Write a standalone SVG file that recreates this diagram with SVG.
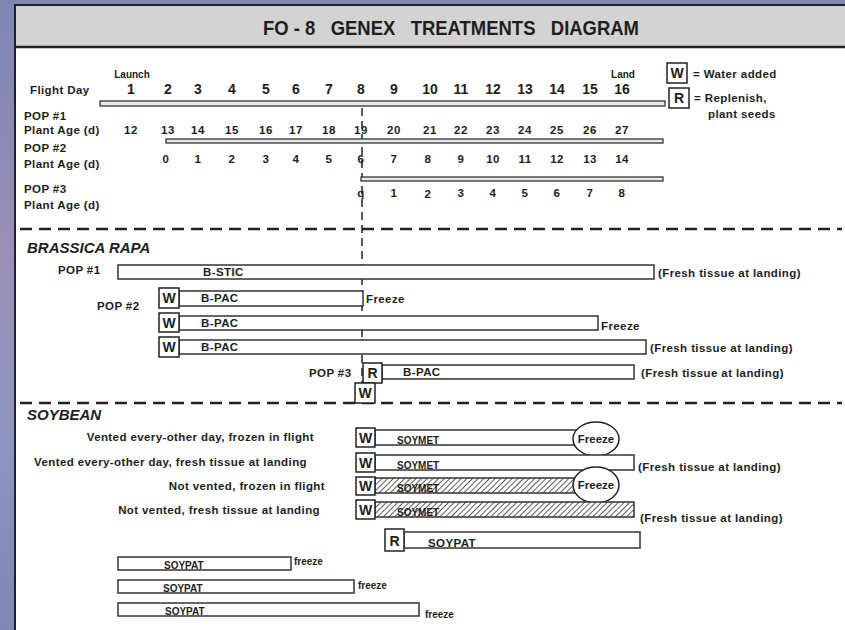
<svg xmlns="http://www.w3.org/2000/svg" width="845" height="630" viewBox="0 0 845 630">
<defs>
<linearGradient id="bg" x1="0" y1="0" x2="0" y2="1">
<stop offset="0" stop-color="#7d86b4"/>
<stop offset="0.4" stop-color="#9a8fb6"/>
<stop offset="0.7" stop-color="#8d95c0"/>
<stop offset="1" stop-color="#7f88b2"/>
</linearGradient>
<pattern id="hatch" patternUnits="userSpaceOnUse" width="4" height="4" patternTransform="rotate(45)">
<rect width="4" height="4" fill="#ffffff"/>
<line x1="0" y1="0" x2="0" y2="4" stroke="#333" stroke-width="1.6"/>
</pattern>
<style>
text{font-family:"Liberation Sans",Arial,sans-serif;font-weight:bold;fill:#1e1e1e}
.t11{font-size:11.5px;letter-spacing:0.4px}
.t10{font-size:10px}
.day{font-size:14px}
.age{font-size:11.5px;letter-spacing:0.5px}
.sec{font-size:15px;font-style:italic}
.bar{fill:#fff;stroke:#333;stroke-width:1.5}
.tl{fill:#e8e8e8;stroke:#333;stroke-width:1.3}
.box{fill:#fff;stroke:#222;stroke-width:1.5}
.boxt{font-size:14px;text-anchor:middle}
.sep{stroke:#222;stroke-width:2.5;stroke-dasharray:12 7;fill:none}
.vd{stroke:#222;stroke-width:1.5;stroke-dasharray:8 5;fill:none}
.mid{text-anchor:middle}
.end{text-anchor:end}
</style>
</defs>
<rect width="845" height="630" fill="url(#bg)"/>
<rect x="15" y="5" width="832" height="630" fill="#ffffff" stroke="#222" stroke-width="2"/>
<rect x="16" y="6" width="830" height="40" fill="#d3d3d3"/>
<line x1="15" y1="47" x2="845" y2="47" stroke="#222" stroke-width="2.5"/>
<text x="451" y="35" class="mid" style="font-size:20px" textLength="376" lengthAdjust="spacingAndGlyphs" xml:space="preserve">FO - 8   GENEX   TREATMENTS   DIAGRAM</text>

<g id="connectors">
<line class="sep" x1="20" y1="229" x2="842" y2="229"/>
<line class="sep" x1="20" y1="403" x2="842" y2="403"/>
<line class="vd" x1="362" y1="108" x2="362" y2="383"/>
</g>

<g id="timeline">
<text x="30" y="94" class="t11">Flight Day</text>
<text x="132" y="78" class="t10 mid">Launch</text>
<text x="623" y="78" class="t10 mid">Land</text>
<g class="day">
<text x="131" y="94" class="mid">1</text>
<text x="168" y="94" class="mid">2</text>
<text x="198" y="94" class="mid">3</text>
<text x="232" y="94" class="mid">4</text>
<text x="266" y="94" class="mid">5</text>
<text x="296" y="94" class="mid">6</text>
<text x="329" y="94" class="mid">7</text>
<text x="361" y="94" class="mid">8</text>
<text x="394" y="94" class="mid">9</text>
<text x="430" y="94" class="mid">10</text>
<text x="461" y="94" class="mid">11</text>
<text x="493" y="94" class="mid">12</text>
<text x="525" y="94" class="mid">13</text>
<text x="557" y="94" class="mid">14</text>
<text x="590" y="94" class="mid">15</text>
<text x="622" y="94" class="mid">16</text>
</g>
<rect class="tl" x="100" y="101" width="565" height="5"/>

<text x="24" y="120" class="t11">POP #1</text>
<text x="24" y="134" class="t11">Plant Age (d)</text>
<g class="age">
<text x="131" y="134" class="mid">12</text>
<text x="168" y="134" class="mid">13</text>
<text x="198" y="134" class="mid">14</text>
<text x="232" y="134" class="mid">15</text>
<text x="266" y="134" class="mid">16</text>
<text x="296" y="134" class="mid">17</text>
<text x="329" y="134" class="mid">18</text>
<text x="361" y="134" class="mid">19</text>
<text x="394" y="134" class="mid">20</text>
<text x="430" y="134" class="mid">21</text>
<text x="461" y="134" class="mid">22</text>
<text x="493" y="134" class="mid">23</text>
<text x="525" y="134" class="mid">24</text>
<text x="557" y="134" class="mid">25</text>
<text x="590" y="134" class="mid">26</text>
<text x="622" y="134" class="mid">27</text>
</g>
<rect class="tl" x="166" y="139" width="497" height="4"/>

<text x="24" y="152" class="t11">POP #2</text>
<text x="24" y="168" class="t11">Plant Age (d)</text>
<g class="t11">
<text x="166" y="163" class="mid">0</text>
<text x="198" y="163" class="mid">1</text>
<text x="232" y="163" class="mid">2</text>
<text x="266" y="163" class="mid">3</text>
<text x="296" y="163" class="mid">4</text>
<text x="329" y="163" class="mid">5</text>
<text x="361" y="163" class="mid">6</text>
<text x="394" y="163" class="mid">7</text>
<text x="428" y="163" class="mid">8</text>
<text x="461" y="163" class="mid">9</text>
<text x="493" y="163" class="mid">10</text>
<text x="525" y="163" class="mid">11</text>
<text x="557" y="163" class="mid">12</text>
<text x="590" y="163" class="mid">13</text>
<text x="622" y="163" class="mid">14</text>
</g>
<rect class="tl" x="361" y="177" width="302" height="4"/>

<text x="24" y="193" class="t11">POP #3</text>
<text x="24" y="209" class="t11">Plant Age (d)</text>
<g class="t11">
<text x="361" y="197" class="mid">q</text>
<text x="394" y="197" class="mid">1</text>
<text x="428" y="198" class="mid">2</text>
<text x="461" y="197" class="mid">3</text>
<text x="493" y="197" class="mid">4</text>
<text x="525" y="197" class="mid">5</text>
<text x="557" y="197" class="mid">6</text>
<text x="590" y="197" class="mid">7</text>
<text x="622" y="197" class="mid">8</text>
</g>
</g>

<g id="legend">
<rect class="box" x="667" y="63" width="20" height="20"/>
<text x="677" y="78" class="boxt">W</text>
<text x="693" y="78" class="t11">= Water added</text>
<rect class="box" x="669" y="88" width="20" height="20"/>
<text x="679" y="103" class="boxt">R</text>
<text x="694" y="102" class="t11">= Replenish,</text>
<text x="708" y="118" class="t11">plant seeds</text>
</g>

<g id="brassica">
<text x="27" y="253" class="sec">BRASSICA RAPA</text>
<g id="br-pop1">
<text x="58" y="274" class="t11">POP #1</text>
<rect class="bar" x="118" y="265" width="536" height="14"/>
<text x="203" y="276" class="t11">B-STIC</text>
<text x="658" y="277" class="t11">(Fresh tissue at landing)</text>
</g>
<text x="97" y="310" class="t11">POP #2</text>
<g id="br-pop2a">
<rect class="bar" x="179" y="291" width="184" height="15"/>
<rect class="box" x="159" y="288" width="20" height="20"/>
<text x="169" y="303" class="boxt">W</text>
<text x="201" y="302" class="t11">B-PAC</text>
<text x="366" y="303" class="t11">Freeze</text>
</g>
<g id="br-pop2b">
<rect class="bar" x="179" y="316" width="419" height="14"/>
<rect class="box" x="159" y="313" width="20" height="19"/>
<text x="169" y="328" class="boxt">W</text>
<text x="201" y="327" class="t11">B-PAC</text>
<text x="601" y="330" class="t11">Freeze</text>
</g>
<g id="br-pop2c">
<rect class="bar" x="179" y="340" width="467" height="14"/>
<rect class="box" x="159" y="337" width="20" height="20"/>
<text x="169" y="352" class="boxt">W</text>
<text x="201" y="351" class="t11">B-PAC</text>
<text x="650" y="352" class="t11">(Fresh tissue at landing)</text>
</g>
<g id="br-pop3">
<text x="309" y="377" class="t11">POP #3</text>
<rect class="bar" x="382" y="365" width="252" height="14"/>
<rect class="box" x="363" y="363" width="19" height="20"/>
<text x="372.5" y="378" class="boxt">R</text>
<text x="403" y="376" class="t11">B-PAC</text>
<text x="641" y="377" class="t11">(Fresh tissue at landing)</text>
<rect class="box" x="355" y="383" width="20" height="20"/>
<text x="365" y="398" class="boxt">W</text>
</g>
</g>

<g id="soybean">
<text x="27" y="420" class="sec">SOYBEAN</text>
<g id="sb-row1">
<text x="314" y="441" class="t11 end">Vented every-other day, frozen in flight</text>
<rect class="bar" x="375" y="430" width="205" height="15"/>
<rect class="box" x="356" y="428" width="19" height="19"/>
<text x="365.5" y="443" class="boxt">W</text>
<text x="397" y="444" class="t10">SOYMET</text>
<ellipse cx="596" cy="439" rx="23" ry="17" fill="#fff" stroke="#222" stroke-width="1.5"/>
<text x="596" y="443" class="t11 mid" style="letter-spacing:0">Freeze</text>
</g>
<g id="sb-row2">
<text x="307" y="466" class="t11 end">Vented every-other day, fresh tissue at landing</text>
<rect class="bar" x="375" y="455" width="259" height="15"/>
<rect class="box" x="356" y="453" width="19" height="19"/>
<text x="365.5" y="468" class="boxt">W</text>
<text x="397" y="469" class="t10">SOYMET</text>
<text x="638" y="471" class="t11">(Fresh tissue at landing)</text>
</g>
<g id="sb-row3">
<text x="325" y="490" class="t11 end">Not vented, frozen in flight</text>
<rect x="375" y="478" width="205" height="15" fill="url(#hatch)" stroke="#333" stroke-width="1.5"/>
<rect class="box" x="356" y="477" width="19" height="18"/>
<text x="365.5" y="491" class="boxt">W</text>
<text x="397" y="492" class="t10">SOYMET</text>
<ellipse cx="596" cy="485" rx="23" ry="18" fill="#fff" stroke="#222" stroke-width="1.5"/>
<text x="596" y="489" class="t11 mid" style="letter-spacing:0">Freeze</text>
</g>
<g id="sb-row4">
<text x="320" y="514" class="t11 end">Not vented, fresh tissue at landing</text>
<rect x="375" y="502" width="259" height="15" fill="url(#hatch)" stroke="#333" stroke-width="1.5"/>
<rect class="box" x="356" y="500" width="19" height="19"/>
<text x="365.5" y="515" class="boxt">W</text>
<text x="397" y="516" class="t10">SOYMET</text>
<text x="640" y="522" class="t11">(Fresh tissue at landing)</text>
</g>
<g id="sb-row5">
<rect class="bar" x="404" y="532" width="236" height="16"/>
<rect class="box" x="385" y="529" width="19" height="22"/>
<text x="394.5" y="546" class="boxt">R</text>
<text x="428" y="547" class="t11">SOYPAT</text>
</g>
<g id="sb-soypat1">
<rect class="bar" x="118" y="557" width="173" height="13"/>
<text x="164" y="569" class="t10">SOYPAT</text>
<text x="294" y="565" class="t10">freeze</text>
</g>
<g id="sb-soypat2">
<rect class="bar" x="118" y="580" width="236" height="13"/>
<text x="163" y="592" class="t10">SOYPAT</text>
<text x="358" y="589" class="t10">freeze</text>
</g>
<g id="sb-soypat3">
<rect class="bar" x="118" y="603" width="301" height="13"/>
<text x="165" y="615" class="t10">SOYPAT</text>
<text x="425" y="618" class="t10">freeze</text>
</g>
</g>
</svg>
